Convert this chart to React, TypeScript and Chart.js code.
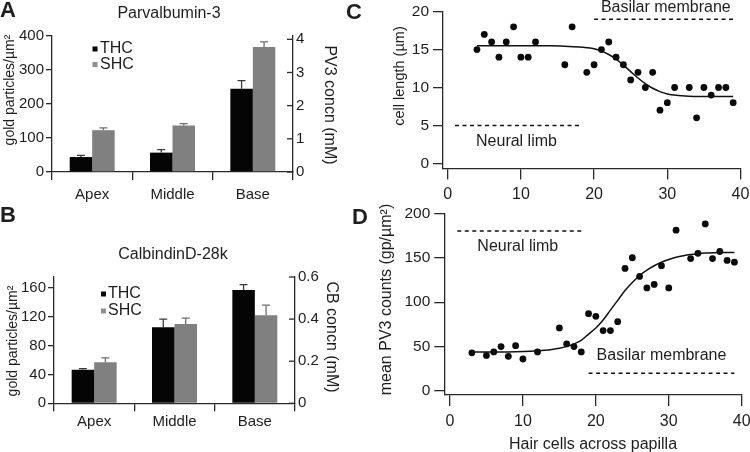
import React, { useEffect, useRef } from "react";
import { Chart, registerables } from "chart.js";

Chart.register(...registerables);

const FONT = "'Liberation Sans', Arial, Helvetica, sans-serif";
const INK = "#1e1e1e";
const AXIS = "#2a2a2a";

// ---------- Panel A: Parvalbumin-3 ----------
const regions = ["Apex", "Middle", "Base"];
const pvTHC = [44, 57, 245];
const pvTHCErr = [5, 9, 24];
const pvSHC = [123, 137, 368];
const pvSHCErr = [7, 5, 15];
const pvGoldTicks = [0, 100, 200, 300, 400];
const pvConcTicks = [0, 1, 2, 3, 4];

// ---------- Panel B: CalbindinD-28k ----------
const cbTHC = [46.5, 105.5, 157];
const cbTHCErr = [1.5, 11, 7.5];
const cbSHC = [57, 110, 122];
const cbSHCErr = [6, 8, 14];
const cbGoldTicks = [0, 40, 80, 120, 160];
const cbConcTicks = [0, 0.2, 0.4, 0.6];

// ---------- Panel C: cell length ----------
const cPointX = [4, 5, 6, 7, 8, 9, 10, 11, 12, 16, 17, 19, 20, 21, 22, 23, 24, 25, 26, 27, 28, 29, 30, 31, 33, 34, 35, 36, 37, 38, 39];
const cPointY = [15, 17, 16, 14, 16, 18, 14, 14, 16, 13, 18, 12, 13, 15, 16, 14, 13, 11, 12, 10, 12, 7, 8, 10, 10, 6, 10, 9, 10, 10, 8];
const cFitX = [4, 6, 8, 10, 12, 14, 16, 18, 19, 20, 21, 22, 23, 24, 25, 26, 27, 28, 29, 30, 31, 32, 33, 35, 37, 39];
const cFitY = [15.5, 15.5, 15.5, 15.5, 15.5, 15.5, 15.45, 15.35, 15.25, 15.1, 14.8, 14.35, 13.75, 12.95, 12.1, 11.25, 10.5, 9.9, 9.45, 9.15, 9.0, 8.9, 8.85, 8.8, 8.8, 8.8];
const cNeuralX = [1, 18.3];
const cNeuralY = [5, 5];
const cBasilarX = [20, 39];
const cBasilarY = [19, 19];
const cXTicks = [0, 10, 20, 30, 40];
const cYTicks = [0, 5, 10, 15, 20];

// ---------- Panel D: mean PV3 counts ----------
const dPointX = [3, 5, 6, 7, 8, 9, 10, 12, 15, 16, 17, 18, 19, 20, 21, 22, 23, 24, 25, 26, 27, 28, 29, 30, 31, 33, 34, 35, 36, 37, 38, 39];
const dPointY = [43, 40, 44, 50, 39, 51, 36, 44, 71, 53, 50, 44, 87, 84, 68, 68, 78, 138, 150, 129, 116, 120, 141, 116, 181, 149, 155, 188, 149, 157, 147, 145];
const dFitX = [3, 5, 7, 9, 11, 13, 14, 15, 16, 17, 18, 19, 20, 21, 22, 23, 24, 25, 26, 27, 28, 29, 30, 31, 32, 33, 34, 35, 37, 39];
const dFitY = [44, 44, 44, 44.2, 44.7, 45.8, 46.8, 48.2, 50.2, 53, 57, 64, 71, 80, 91, 102, 113, 122, 130, 136, 141, 145, 148, 150.5, 152.3, 153.6, 154.5, 155.2, 156, 156];
const dNeuralX = [1, 18.3];
const dNeuralY = [180, 180];
const dBasilarX = [19, 39];
const dBasilarY = [20, 20];
const dXTicks = [0, 10, 20, 30, 40];
const dYTicks = [0, 50, 100, 150, 200];

const W = 750;
const H = 452;

const pts = (xs: number[], ys: number[]) => xs.map((x, i) => ({ x, y: ys[i] }));
const font = (size: number, weight: any = "normal") => ({ family: FONT, size, weight });

type TextItem = { text: string; x: number; y: number; size: number; bold?: boolean; rot?: number; align?: CanvasTextAlign };
type DataText = { text: string; x: number; y: number; size: number };

function textPlugin(items: TextItem[], dataItems: DataText[] = []) {
  return {
    id: "panelTexts",
    afterDraw(chart: any) {
      const ctx = chart.ctx;
      ctx.save();
      ctx.fillStyle = INK;
      ctx.textBaseline = "middle";
      for (const t of items) {
        ctx.save();
        ctx.font = `${t.bold ? "bold " : ""}${t.size}px ${FONT}`;
        ctx.textAlign = t.align || "center";
        ctx.translate(t.x, t.y);
        if (t.rot) ctx.rotate(t.rot);
        ctx.fillText(t.text, 0, 0);
        ctx.restore();
      }
      const xs = chart.scales.x;
      const ys = chart.scales.y;
      for (const t of dataItems) {
        ctx.font = `${t.size}px ${FONT}`;
        ctx.textAlign = "center";
        ctx.fillText(t.text, xs.getPixelForValue(t.x), ys.getPixelForValue(t.y));
      }
      ctx.restore();
    },
  };
}

const errorBarPlugin = {
  id: "errorBars",
  afterDatasetsDraw(chart: any) {
    const ctx = chart.ctx;
    const ys = chart.scales.y;
    chart.data.datasets.forEach((ds: any, di: number) => {
      if (!ds.errors) return;
      const meta = chart.getDatasetMeta(di);
      ctx.save();
      ctx.strokeStyle = ds.errorColor;
      ctx.lineWidth = 1.3;
      meta.data.forEach((el: any, i: number) => {
        const top = ys.getPixelForValue(ds.data[i] + ds.errors[i]);
        ctx.beginPath();
        ctx.moveTo(el.x, el.y);
        ctx.lineTo(el.x, top);
        ctx.moveTo(el.x - 4, top);
        ctx.lineTo(el.x + 4, top);
        ctx.stroke();
      });
      ctx.restore();
    });
  },
};

function legendPlugin(x: number, ys: number[], textX: number) {
  return {
    id: "boxLegend",
    afterDraw(chart: any) {
      const ctx = chart.ctx;
      ctx.save();
      ctx.textBaseline = "middle";
      ctx.textAlign = "left";
      ctx.font = `16px ${FONT}`;
      chart.data.datasets.forEach((ds: any, i: number) => {
        ctx.fillStyle = ds.legendColor || ds.backgroundColor;
        ctx.fillRect(x - 2.5, ys[i] - 2.5, 5, 5);
        ctx.fillStyle = INK;
        ctx.fillText(ds.label, textX, ys[i]);
      });
      ctx.restore();
    },
  };
}

const innerRightTicks = {
  id: "innerRightTicks",
  afterDraw(chart: any) {
    const s = chart.scales.y1;
    if (!s) return;
    const ctx = chart.ctx;
    ctx.save();
    ctx.strokeStyle = AXIS;
    ctx.lineWidth = 1.3;
    s.ticks.forEach((t: any) => {
      const py = s.getPixelForValue(t.value);
      ctx.beginPath();
      ctx.moveTo(s.left, py);
      ctx.lineTo(s.left - 6, py);
      ctx.stroke();
    });
    ctx.restore();
  },
};

const setTicks = (vals: number[]) => (s: any) => {
  s.ticks = vals.map((v) => ({ value: v }));
};
const fixWidth = (w: number) => (s: any) => {
  s.width = w;
  s.paddingTop = 0;
  s.paddingBottom = 0;
};
const fixHeight = (h: number) => (s: any) => {
  s.height = h;
  s.paddingLeft = 0;
  s.paddingRight = 0;
};

function barChart(p: {
  thc: number[]; thcErr: number[]; shc: number[]; shcErr: number[];
  goldMax: number; goldTicks: number[]; concMax: number; concTicks: number[];
  left: number; right: number; top: number; bottom: number; catPad: number;
  texts: TextItem[]; legendX: number; legendYs: number[]; legendTextX: number;
}) {
  return {
    type: "bar",
    data: {
      labels: regions,
      datasets: [
        { label: "THC", data: p.thc, errors: p.thcErr, errorColor: "#3a3a3a", backgroundColor: "#050505", borderWidth: 0, categoryPercentage: 0.56, barPercentage: 1, yAxisID: "y" },
        { label: "SHC", data: p.shc, errors: p.shcErr, errorColor: "#6f6f6f", backgroundColor: "#808080", legendColor: "#8e8e8e", borderWidth: 0, categoryPercentage: 0.56, barPercentage: 1, yAxisID: "y" },
      ],
    },
    options: {
      responsive: false,
      animation: false,
      devicePixelRatio: 1,
      events: [],
      layout: { padding: { left: 0, top: p.top, right: W - p.right - 50, bottom: H - p.bottom - 40 } },
      plugins: { legend: { display: false }, tooltip: { enabled: false }, title: { display: false } },
      scales: {
        x: {
          type: "category",
          offset: true,
          afterFit: fixHeight(40),
          grid: { display: true, offset: true, drawOnChartArea: false, drawTicks: true, tickLength: 8, color: AXIS, lineWidth: 1.3 },
          border: { display: true, color: AXIS, width: 1.3 },
          ticks: { color: INK, font: font(15), padding: p.catPad, maxRotation: 0, autoSkip: false },
        },
        y: {
          type: "linear",
          position: "left",
          min: 0,
          max: p.goldMax,
          afterBuildTicks: setTicks(p.goldTicks),
          afterFit: fixWidth(p.left),
          grid: { display: true, drawOnChartArea: false, drawTicks: true, tickLength: 6, color: AXIS, lineWidth: 1.3 },
          border: { display: true, color: AXIS, width: 1.3 },
          ticks: { color: INK, font: font(15), padding: 2, callback: (v: any) => String(v) },
        },
        y1: {
          type: "linear",
          position: "right",
          min: 0,
          max: p.concMax,
          afterBuildTicks: setTicks(p.concTicks),
          afterFit: fixWidth(50),
          grid: { display: false, drawOnChartArea: false, drawTicks: false },
          border: { display: true, color: AXIS, width: 1.3 },
          ticks: { color: INK, font: font(15), padding: 3, callback: (v: any) => String(v) },
        },
      },
    },
    plugins: [errorBarPlugin, innerRightTicks, legendPlugin(p.legendX, p.legendYs, p.legendTextX), textPlugin(p.texts)],
  };
}

function lineChart(p: {
  pointX: number[]; pointY: number[]; fitX: number[]; fitY: number[];
  neuralX: number[]; neuralY: number[]; basilarX: number[]; basilarY: number[];
  xMin: number; yMin: number; yMax: number; xTicks: number[]; yTicks: number[];
  left: number; right: number; top: number; bottom: number; xPad: number;
  texts: TextItem[]; dataTexts: DataText[];
}) {
  const dashed = { type: "line", borderColor: "#111", borderWidth: 1.5, borderDash: [4, 3.5], pointRadius: 0, fill: false, tension: 0 };
  return {
    type: "scatter",
    data: {
      datasets: [
        { type: "line", label: "fit", data: pts(p.fitX, p.fitY), borderColor: "#111", borderWidth: 1.5, pointRadius: 0, fill: false, cubicInterpolationMode: "monotone" },
        { type: "scatter", label: "cells", data: pts(p.pointX, p.pointY), backgroundColor: "#0a0a0a", borderColor: "#0a0a0a", borderWidth: 0, pointRadius: 3.4 },
        { ...dashed, label: "Neural limb", data: pts(p.neuralX, p.neuralY) },
        { ...dashed, label: "Basilar membrane", data: pts(p.basilarX, p.basilarY) },
      ],
    },
    options: {
      responsive: false,
      animation: false,
      devicePixelRatio: 1,
      events: [],
      layout: { padding: { left: p.left - 44, top: p.top, right: W - p.right, bottom: H - p.bottom - 40 } },
      plugins: { legend: { display: false }, tooltip: { enabled: false }, title: { display: false } },
      scales: {
        x: {
          type: "linear",
          min: p.xMin,
          max: 40,
          afterBuildTicks: setTicks(p.xTicks),
          afterFit: fixHeight(40),
          grid: { display: true, drawOnChartArea: false, drawTicks: true, tickLength: 11, color: AXIS, lineWidth: 1.3 },
          border: { display: true, color: AXIS, width: 1.3 },
          ticks: { color: INK, font: font(16), padding: p.xPad, maxRotation: 0, autoSkip: false, callback: (v: any) => String(v) },
        },
        y: {
          type: "linear",
          min: p.yMin,
          max: p.yMax,
          afterBuildTicks: setTicks(p.yTicks),
          afterFit: fixWidth(44),
          grid: { display: true, drawOnChartArea: false, drawTicks: true, tickLength: 10, color: AXIS, lineWidth: 1.3 },
          border: { display: true, color: AXIS, width: 1.3 },
          ticks: { color: INK, font: font(15.5), padding: 4, callback: (v: any) => String(v) },
        },
      },
    },
    plugins: [textPlugin(p.texts, p.dataTexts)],
  };
}

const HALF = Math.PI / 2;

function configs(): any[] {
  return [
    barChart({
      thc: pvTHC, thcErr: pvTHCErr, shc: pvSHC, shcErr: pvSHCErr,
      goldMax: 400, goldTicks: pvGoldTicks, concMax: 4.1, concTicks: pvConcTicks,
      left: 52, right: 293, top: 36, bottom: 172, catPad: 6,
      legendX: 95, legendYs: [49, 64.5], legendTextX: 100,
      texts: [
        { text: "A", x: 0, y: 11, size: 22, bold: true, align: "left" },
        { text: "Parvalbumin-3", x: 169, y: 14, size: 16 },
        { text: "gold particles/µm²", x: 10, y: 90, size: 14, rot: -HALF },
        { text: "PV3 concn (mM)", x: 329, y: 105, size: 16, rot: HALF },
      ],
    }),
    barChart({
      thc: cbTHC, thcErr: cbTHCErr, shc: cbSHC, shcErr: cbSHCErr,
      goldMax: 175, goldTicks: cbGoldTicks, concMax: 0.6, concTicks: cbConcTicks,
      left: 54, right: 295, top: 277, bottom: 403.3, catPad: 1.5,
      legendX: 103.5, legendYs: [294, 311], legendTextX: 108,
      texts: [
        { text: "B", x: 0, y: 216, size: 22, bold: true, align: "left" },
        { text: "CalbindinD-28k", x: 173, y: 255, size: 16 },
        { text: "gold particles/µm²", x: 13, y: 341, size: 14, rot: -HALF },
        { text: "CB concn (mM)", x: 331, y: 337, size: 16, rot: HALF },
      ],
    }),
    lineChart({
      pointX: cPointX, pointY: cPointY, fitX: cFitX, fitY: cFitY,
      neuralX: cNeuralX, neuralY: cNeuralY, basilarX: cBasilarX, basilarY: cBasilarY,
      xMin: -0.64, yMin: -0.69, yMax: 20, xTicks: cXTicks, yTicks: cYTicks,
      left: 443, right: 740.5, top: 11.7, bottom: 168.5, xPad: 5,
      texts: [
        { text: "C", x: 346, y: 12.5, size: 22, bold: true, align: "left" },
        { text: "cell length (µm)", x: 400, y: 76, size: 14.5, rot: -HALF },
      ],
      dataTexts: [
        { text: "Neural limb", x: 9.4, y: 2.9, size: 16 },
        { text: "Basilar membrane", x: 29.8, y: 20.6, size: 16 },
      ],
    }),
    lineChart({
      pointX: dPointX, pointY: dPointY, fitX: dFitX, fitY: dFitY,
      neuralX: dNeuralX, neuralY: dNeuralY, basilarX: dBasilarX, basilarY: dBasilarY,
      xMin: -0.78, yMin: -4.5, yMax: 200, xTicks: dXTicks, yTicks: dYTicks,
      left: 444.3, right: 741.7, top: 213.3, bottom: 395, xPad: 6,
      texts: [
        { text: "D", x: 352, y: 218, size: 22, bold: true, align: "left" },
        { text: "mean PV3 counts (gp/µm²)", x: 387, y: 299.5, size: 16, rot: -HALF },
        { text: "Hair cells across papilla", x: 593, y: 445, size: 16 },
      ],
      dataTexts: [
        { text: "Neural limb", x: 9.3, y: 162, size: 16 },
        { text: "Basilar membrane", x: 29, y: 40.3, size: 16 },
      ],
    }),
  ];
}

export default function App() {
  const r0 = useRef<HTMLCanvasElement>(null);
  const r1 = useRef<HTMLCanvasElement>(null);
  const r2 = useRef<HTMLCanvasElement>(null);
  const r3 = useRef<HTMLCanvasElement>(null);
  const refs = [r0, r1, r2, r3];

  useEffect(() => {
    const cfgs = configs();
    const charts = refs.map((r, i) => new Chart(r.current as HTMLCanvasElement, cfgs[i]));
    return () => charts.forEach((c) => c.destroy());
  }, []);

  return (
    <div style={{ position: "absolute", left: 0, top: 0, width: W, height: H, background: "#fff", overflow: "hidden" }}>
      {refs.map((r, i) => (
        <canvas key={i} ref={r} width={W} height={H} style={{ position: "absolute", left: 0, top: 0, width: W, height: H }} />
      ))}
    </div>
  );
}
